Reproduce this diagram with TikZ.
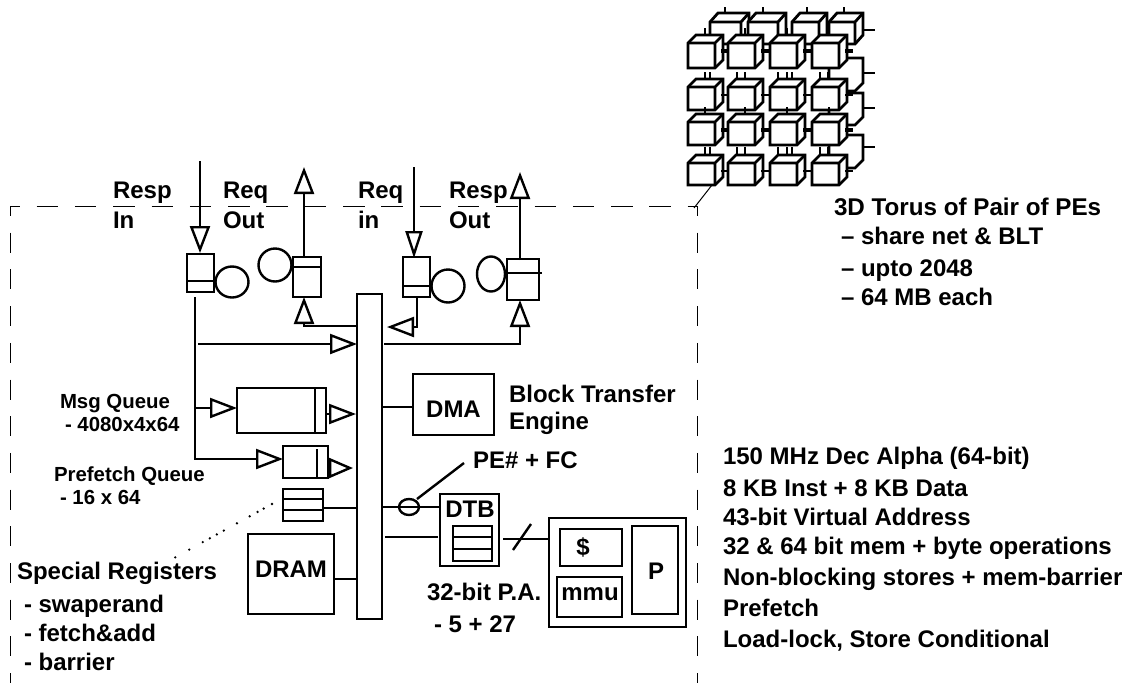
\documentclass[tikz,border=0pt]{standalone}
\usepackage{fontspec}
\setmainfont{Liberation Sans}
\usetikzlibrary{arrows.meta,positioning,shapes.geometric}

\begin{document}
\begin{tikzpicture}[
	x=1pt, y=-1pt,
	line width=2.4pt,
	font=\fontsize{24}{27}\selectfont\bfseries,
	>={Triangle[open,length=27pt,width=20pt]},
	box/.style={rectangle, draw=black, inner sep=0pt, outer sep=0pt},
	tag/.style={anchor=base west, inner sep=0pt, outer sep=0pt},
	mid/.style={anchor=base, inner sep=0pt, outer sep=0pt},
	small/.style={tag, font=\fontsize{20.4}{24}\selectfont\bfseries},
	ring/.style={ellipse, draw=black, inner sep=0pt, outer sep=0pt},
	boundary/.style={line width=1pt},
	cube/.style={fill=white, line join=miter}
]
\useasboundingbox (0,0) rectangle (1131,683);

% --- Board outline ---
\coordinate (cornerl) at (10,206);
\coordinate (cornerr) at (697,206);
\draw[boundary, dash pattern=on 21.5pt off 16.8pt, dash phase=11.7pt] (cornerl) -- (cornerr);
\draw[boundary, dash pattern=on 20pt off 16.7pt, dash phase=10pt] (cornerl) -- (10,683);
\draw[boundary, dash pattern=on 20pt off 16.7pt, dash phase=10pt] (cornerr) -- (697,683);

% --- Torus of cubes ---
\begin{scope}[line width=2.8pt]
\foreach \x/\w in {710/31, 748/30, 792/27, 829/26} {
  \draw (\x+15,13) -- (\x+15,7);
  \draw[cube] (\x,22) -- ++(8,-9) -- ++(\w,0) -- ++(0,22) -- ++(-8,9) -- ++(-\w,0) -- cycle;
  \draw (\x,22) -- ++(\w,0) -- ++(0,22) (\x+\w,22) -- ++(8,-9);
}
\foreach \y/\h in {66/25, 101/24, 143/25} {
  \draw[cube] (829,\y) -- ++(8,-8) -- ++(26,0) -- ++(0,\h) -- ++(-8,8) -- ++(-26,0) -- cycle;
}
\foreach \y in {30,73,108,147} {
  \draw (863,\y) -- (875,\y);
}
\foreach \y/\h/\s in {43/25/4.5, 87/23/2.8, 122/23/4.5, 163/22/2.8} {
  \foreach \x in {688,728,770,812} {
    \draw (\x+17,\y-8) -- ++(0,-7);
    \draw[cube] (\x,\y) -- ++(8,-8) -- ++(27,0) -- ++(0,\h) -- ++(-8,8) -- ++(-27,0) -- cycle;
    \draw (\x,\y) -- ++(27,0) -- ++(0,\h) (\x+27,\y) -- ++(8,-8);
    \draw[line width=\s pt] (\x+33,\y+8) -- (\x+41,\y+8);
  }
}
\foreach \x in {705,710,737,745,778,787,792,820,828} {
  \draw (\x,72) -- (\x,79);
  \draw (\x,147) -- (\x,155);
}
\end{scope}
\coordinate (cubetip) at (712,185);
\draw[line width=1pt] (cubetip) -- (694,208);

\node[tag] (torus) at (834,215) {\fontsize{24.2}{27}\selectfont 3D Torus of Pair of PEs};
\node[tag] (share) at (841,244) {-- share net \& BLT};
\node[tag] (upto) at (841,276) {-- upto 2048};
\node[tag] (each) at (841,305) {-- 64 MB each};

% --- Network ports ---
\node[box, minimum width=27pt, minimum height=38pt] (respinq) at (200.5,273) {};
\node[box, minimum width=28pt, minimum height=40pt] (reqoutq) at (307,277) {};
\node[box, minimum width=27pt, minimum height=40pt] (reqinq) at (416.5,277) {};
\node[box, minimum width=32pt, minimum height=41pt] (respoutq) at (523,279.5) {};
\draw (respinq.west |- 0,281) -- (respinq.east |- 0,281);
\draw (reqoutq.west |- 0,267) -- (reqoutq.east |- 0,267);
\draw (reqinq.west |- 0,286) -- (reqinq.east |- 0,286);
\draw (respoutq.west |- 0,273) -- (542,273);

\node[ring, minimum width=33pt, minimum height=31pt] (respinc) at (232,282) {};
\node[ring, minimum width=33pt, minimum height=33pt] (reqoutc) at (275,265) {};
\node[ring, minimum width=33pt, minimum height=33pt] (reqinc) at (448,286) {};
\node[ring, minimum width=28pt, minimum height=35pt] (respoutc) at (491,274) {};

\node[tag] (respa) at (113,198) {Resp};
\node[tag] (respb) at (113,228) {In};
\node[tag] (reqa) at (223,198) {Req};
\node[tag] (reqb) at (223,228) {Out};
\node[tag] (reqc) at (358,198) {Req};
\node[tag] (reqd) at (358,228) {in};
\node[tag] (respc) at (449,198) {Resp};
\node[tag] (respd) at (449,228) {Out};

% --- Bus ---
\node[box, minimum width=25pt, minimum height=325pt] (bus) at (369.5,456.5) {};

% --- Queues and memory ---
\node[box, minimum width=89pt, minimum height=45pt] (msgq) at (281.5,410.5) {};
\draw (315,388) -- (315,433);
\node[box, minimum width=45pt, minimum height=32pt] (prefq) at (305.5,462) {};
\draw (317,449) -- (317,478);
\node[box, minimum width=40pt, minimum height=32pt] (regs) at (303,505) {};
\draw (regs.west |- 0,499) -- (regs.east |- 0,499);
\draw (regs.west |- 0,510) -- (regs.east |- 0,510);
\node[box, minimum width=86pt, minimum height=80pt] (dram) at (291,574) {};
\node[box, minimum width=81pt, minimum height=61pt] (dma) at (453.5,404.5) {};

\node[mid] (dramlbl) at (291,577) {DRAM};
\node[mid] (dmalbl) at (453.5,417) {DMA};
\node[tag] (blta) at (509,402) {Block Transfer};
\node[tag] (bltb) at (509,429) {Engine};

\node[small] (msga) at (60,408) {Msg Queue};
\node[small] (msgb) at (65,431) {- 4080x4x64};
\node[small] (prefa) at (54,481) {Prefetch Queue};
\node[small] (prefb) at (60,504) {- 16 x 64};

\node[tag] (spec) at (17,579) {Special Registers};
\node[tag] (swap) at (24,612) {- swaperand};
\node[tag] (fetch) at (24,641) {- fetch\&add};
\node[tag] (barr) at (24,670) {- barrier};

% --- Processor ---
\node[box, minimum width=59pt, minimum height=72pt] (dtb) at (469.5,530) {};
\node[box, minimum width=39pt, minimum height=35pt] (dtbreg) at (472.5,543.5) {};
\draw (dtbreg.west |- 0,537) -- (dtbreg.east |- 0,537);
\draw (dtbreg.west |- 0,549) -- (dtbreg.east |- 0,549);
\node[box, minimum width=137pt, minimum height=109pt] (cpu) at (617.5,572.5) {};
\node[box, minimum width=62pt, minimum height=37pt] (cache) at (591,547.5) {};
\node[box, minimum width=65pt, minimum height=40pt] (mmu) at (589.5,597) {};
\node[box, minimum width=46pt, minimum height=88pt] (proc) at (655,570) {};

\node[mid] (dtblbl) at (470,517) {DTB};
\node[mid] (cachelbl) at (583,555) {\$};
\node[mid] (mmulbl) at (590,600) {mmu};
\node[mid] (proclbl) at (656,579) {P};
\node[tag] (palbl) at (427,600) {32-bit P.A.};
\node[tag] (pasplit) at (434,632) {- 5 + 27};
\node[tag] (pefc) at (473,468) {PE\# + FC};
\node[ring, minimum width=20pt, minimum height=16pt] (pering) at (409,507) {};

\node[tag] (alpha) at (723,464) {150 MHz Dec Alpha (64-bit)};
\node[tag] (inst) at (723,496) {8 KB Inst + 8 KB Data};
\node[tag] (virt) at (723,525) {43-bit Virtual Address};
\node[tag] (memop) at (723,554) {32 \& 64 bit mem + byte operations};
\node[tag] (store) at (723,585) {Non-blocking stores + mem-barrier};
\node[tag] (pref) at (723,616) {Prefetch};
\node[tag] (lock) at (723,647) {Load-lock, Store Conditional};

% --- Connectors ---
\coordinate (respintop) at (200,161);
\coordinate (reqouttop) at (304,167);
\coordinate (reqintop) at (414,167);
\coordinate (respouttop) at (520,172);
\coordinate (reqoutfeed) at (304,326);
\coordinate (reqinfeed) at (417,327);
\coordinate (reqintip) at (387,327);
\coordinate (respoutfeed) at (520,344);
\coordinate (respleft) at (195,297);
\coordinate (spine) at (195,344);

\draw[->] (respintop) -- (200,253);
\draw[->] (304,257) -- (reqouttop);
\draw[->, >={Triangle[open,length=27pt,width=17pt]}] (reqintop) -- (414,258);
\draw[->] (520,260) -- (respouttop);
\draw[->] (bus.west |- reqoutfeed) -- (reqoutfeed) -- (304,297);
\draw[->] (reqinq.south -| reqinfeed) -- (reqinfeed) -- (reqintip);
\draw[->] ([xshift=2pt]bus.east |- respoutfeed) -- (respoutfeed) -- (respoutq.south -| respoutfeed);
\draw[->] (198,344) -- (bus.west |- spine);
\draw (respleft) -- (195,408);
\draw[->] (195,408) -- (msgq.west |- 0,408);
\draw[->] (195,408) -- (195,459) -- (prefq.west |- 0,459);
\draw[->] (msgq.east |- 0,414) -- (356,414);
\draw[->, >={Triangle[open,length=24pt,width=20pt]}] (prefq.east |- 0,468) -- (353,468);
\draw (regs.east |- 0,508) -- (bus.west |- 0,508);
\draw (dram.east |- 0,579) -- (bus.west |- 0,579);
\draw (bus.east |- 0,407) -- (dma.west |- 0,407);
\draw (bus.east |- pering) -- (dtb.west |- pering);
\draw ([xshift=-2pt]dtb.west |- 0,537) -- ([xshift=3pt]bus.east |- 0,537);
\draw (417,499) -- (464,463);
\draw (503,539) -- (cpu.west |- 0,539);
\draw (513,550) -- (531,524);

% --- Dotted leader ---
\draw[line width=2.6pt, line cap=round, dash pattern=on 0pt off 9.5pt on 0pt off 7pt on 0pt off 9pt on 0pt off 14.5pt on 0pt off 15pt on 0pt off 8pt on 0pt off 8pt on 0pt off 8pt on 0pt off 15.5pt on 0pt off 16pt] (272,504) -- (174,558);

\end{tikzpicture}
\end{document}
